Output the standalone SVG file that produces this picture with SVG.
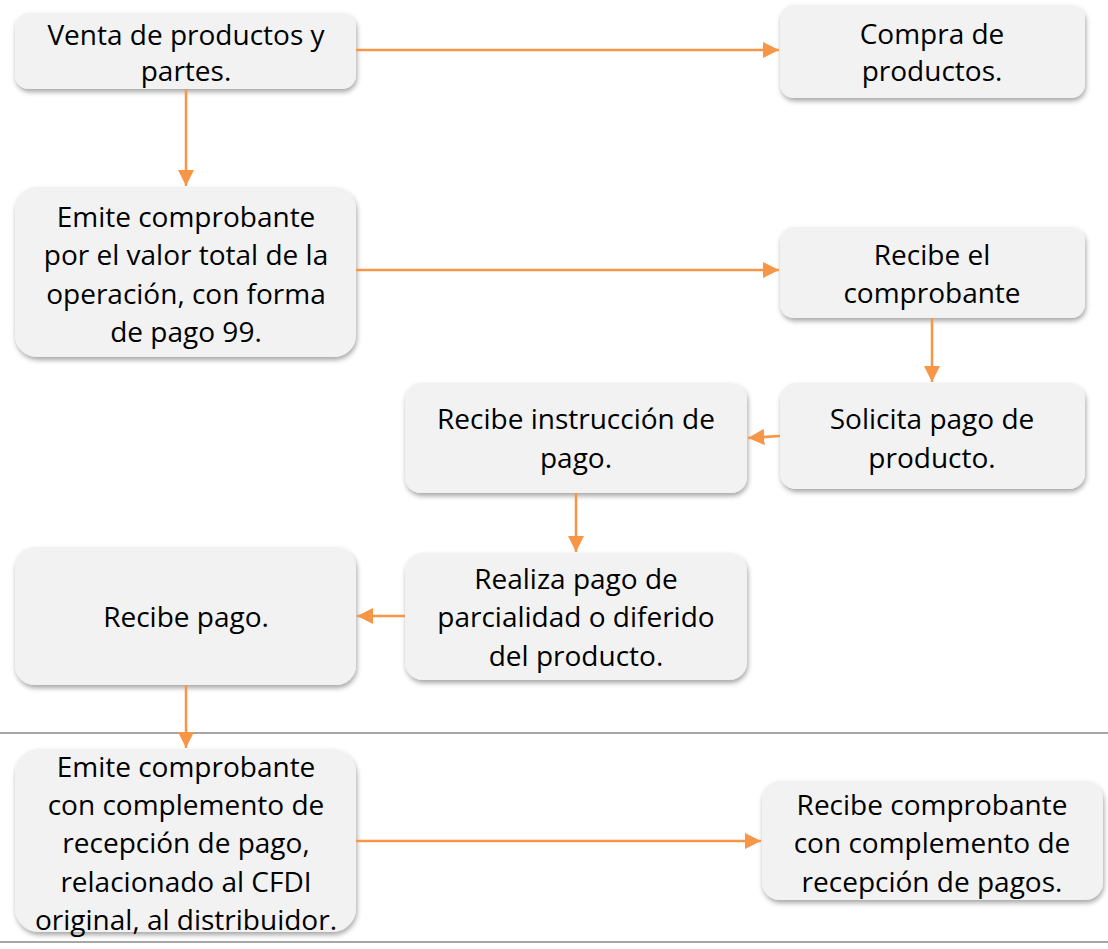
<svg xmlns="http://www.w3.org/2000/svg" width="1108" height="949" viewBox="0 0 1108 949">
<style>
.box{fill:#F2F2F2;filter:url(#sh)}
.t{font-family:"Open Sans","Liberation Sans",sans-serif;font-size:28px;fill:#000;text-anchor:middle;dominant-baseline:central}
.c{stroke:#F79646;stroke-width:2.5;fill:none;marker-end:url(#ah)}
.sep{stroke:#A6A6A6;stroke-width:2}
</style>
<defs>
<filter id="sh" x="-10%" y="-10%" width="120%" height="130%">
<feDropShadow dx="1" dy="3" stdDeviation="2.5" flood-color="#000" flood-opacity="0.35"/>
</filter>
<marker id="ah" viewBox="0 0 10 10" refX="10" refY="5" markerWidth="6.5" markerHeight="6.5" markerUnits="strokeWidth" orient="auto">
<path d="M0,0 L10,5 L0,10 z" fill="#F79646"/>
</marker>
</defs>
<g id="separators">
<line class="sep" x1="0" y1="733" x2="1108" y2="733"/>
<line class="sep" x1="0" y1="942" x2="1108" y2="942"/>
</g>
<g id="n1"><rect class="box" x="15" y="13" width="341" height="76" rx="14"/>
<text class="t" x="186" y="34">Venta de productos y</text><text class="t" x="186" y="70">partes.</text></g>
<g id="n2"><rect class="box" x="780" y="5" width="305" height="93" rx="14"/>
<text class="t" x="932" y="33">Compra de</text><text class="t" x="932" y="70">productos.</text></g>
<g id="n3"><rect class="box" x="15" y="187" width="341" height="170" rx="22"/>
<text class="t" x="186" y="216">Emite comprobante</text><text class="t" x="186" y="254">por el valor total de la</text><text class="t" x="186" y="293">operación, con forma</text><text class="t" x="186" y="331">de pago 99.</text></g>
<g id="n4"><rect class="box" x="780" y="227" width="305" height="91" rx="14"/>
<text class="t" x="932" y="254">Recibe el</text><text class="t" x="932" y="292">comprobante</text></g>
<g id="n5"><rect class="box" x="780" y="383" width="305" height="106" rx="16"/>
<text class="t" x="932" y="418">Solicita pago de</text><text class="t" x="932" y="457">producto.</text></g>
<g id="n6"><rect class="box" x="405" y="383" width="342" height="110" rx="16"/>
<text class="t" x="576" y="418">Recibe instrucción de</text><text class="t" x="576" y="457">pago.</text></g>
<g id="n7"><rect class="box" x="405" y="553" width="342" height="127" rx="18"/>
<text class="t" x="576" y="578">Realiza pago de</text><text class="t" x="576" y="616">parcialidad o diferido</text><text class="t" x="576" y="655">del producto.</text></g>
<g id="n8"><rect class="box" x="15" y="547" width="341" height="138" rx="20"/>
<text class="t" x="186" y="616">Recibe pago.</text></g>
<g id="n9"><rect class="box" x="15" y="749" width="341" height="183" rx="24"/>
<text class="t" x="186" y="766">Emite comprobante</text><text class="t" x="186" y="804">con complemento de</text><text class="t" x="186" y="842">recepción de pago,</text><text class="t" x="186" y="881">relacionado al CFDI</text><text class="t" x="186" y="919">original, al distribuidor.</text></g>
<g id="n10"><rect class="box" x="762" y="781" width="341" height="119" rx="18"/>
<text class="t" x="932" y="804">Recibe comprobante</text><text class="t" x="932" y="842">con complemento de</text><text class="t" x="932" y="881">recepción de pagos.</text></g>
<g id="connectors">
<line class="c" x1="356" y1="50" x2="779" y2="50"/>
<line class="c" x1="186" y1="89" x2="186" y2="186"/>
<line class="c" x1="356" y1="270" x2="779" y2="270"/>
<line class="c" x1="932" y1="318" x2="932" y2="382"/>
<line class="c" x1="780" y1="436" x2="748" y2="438"/>
<line class="c" x1="576" y1="493" x2="576" y2="552"/>
<line class="c" x1="405" y1="616" x2="357" y2="616"/>
<line class="c" x1="186" y1="685" x2="186" y2="748"/>
<line class="c" x1="356" y1="841" x2="761" y2="841"/>
</g>
</svg>
